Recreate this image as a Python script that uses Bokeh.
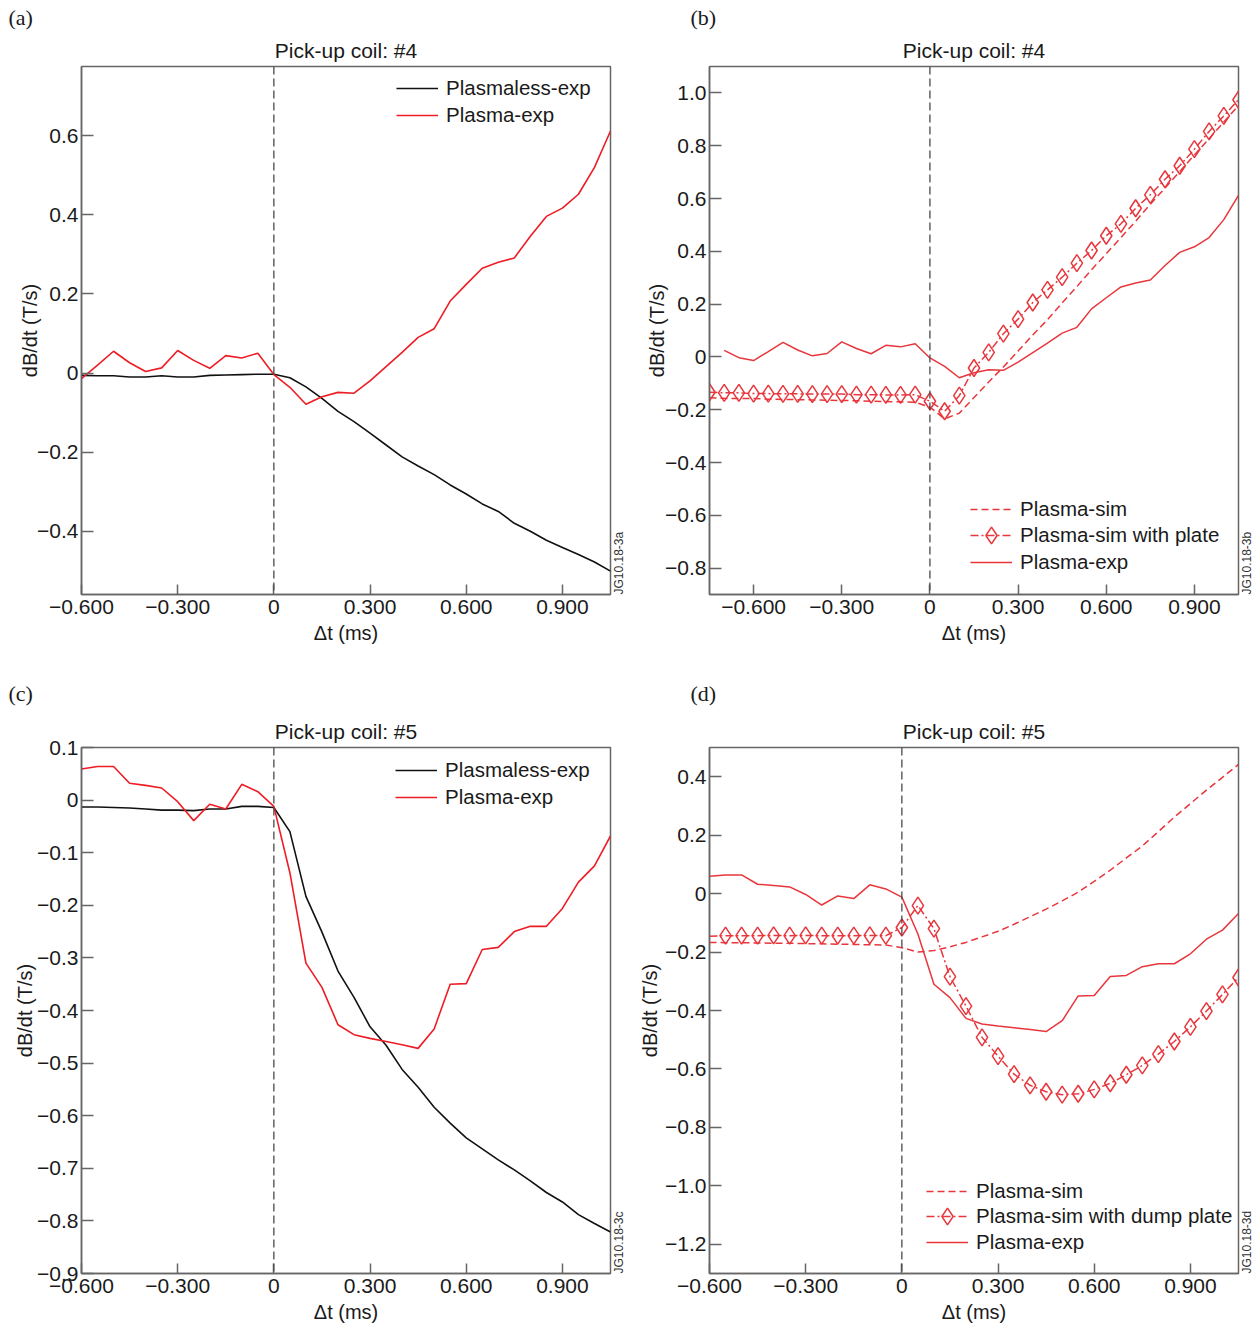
import math
from bokeh.plotting import figure
from bokeh.models import Span, Label, Legend, LegendItem, FixedTicker, Range1d, Title
from bokeh.layouts import column, row
from bokeh.embed import file_html
from bokeh.resources import INLINE

# ---------------- data ----------------
t_from_m075 = [-0.75, -0.70, -0.65, -0.60, -0.55, -0.50, -0.45, -0.40, -0.35, -0.30,
               -0.25, -0.20, -0.15, -0.10, -0.05, 0.00, 0.05, 0.10, 0.15, 0.20,
               0.25, 0.30, 0.35, 0.40, 0.45, 0.50, 0.55, 0.60, 0.65, 0.70,
               0.75, 0.80, 0.85, 0.90, 0.95, 1.00, 1.05]
t_from_m070 = [-0.70, -0.65, -0.60, -0.55, -0.50, -0.45, -0.40, -0.35, -0.30,
               -0.25, -0.20, -0.15, -0.10, -0.05, 0.00, 0.05, 0.10, 0.15, 0.20,
               0.25, 0.30, 0.35, 0.40, 0.45, 0.50, 0.55, 0.60, 0.65, 0.70,
               0.75, 0.80, 0.85, 0.90, 0.95, 1.00, 1.05]
t_from_m060 = [-0.60, -0.55, -0.50, -0.45, -0.40, -0.35, -0.30,
               -0.25, -0.20, -0.15, -0.10, -0.05, 0.00, 0.05, 0.10, 0.15, 0.20,
               0.25, 0.30, 0.35, 0.40, 0.45, 0.50, 0.55, 0.60, 0.65, 0.70,
               0.75, 0.80, 0.85, 0.90, 0.95, 1.00, 1.05]

# Pick-up coil #4
coil4_plasmaless_exp = [-0.006, -0.007, -0.007, -0.010, -0.010, -0.007, -0.010, -0.010, -0.006,
                        -0.005, -0.004, -0.003, -0.003, -0.012, -0.035, -0.064, -0.097, -0.123,
                        -0.152, -0.182, -0.212, -0.235, -0.257, -0.283, -0.306, -0.331, -0.350,
                        -0.380, -0.400, -0.423, -0.441, -0.459, -0.478, -0.501]          # on t_from_m060
coil4_plasma_exp = [0.025, -0.003, -0.014, 0.020, 0.055, 0.026, 0.004, 0.013, 0.057, 0.032,
                    0.012, 0.044, 0.038, 0.050, -0.004, -0.036, -0.079, -0.060, -0.049, -0.051,
                    -0.020, 0.016, 0.052, 0.090, 0.112, 0.182, 0.224, 0.265, 0.280, 0.291,
                    0.346, 0.396, 0.417, 0.452, 0.520, 0.612]                          # on t_from_m070
coil4_plasma_sim = [-0.155, -0.157, -0.158, -0.158, -0.160, -0.161, -0.162, -0.163, -0.164,
                    -0.165, -0.166, -0.168, -0.169, -0.170, -0.172, -0.190, -0.235, -0.213,
                    -0.154, -0.095, -0.038, 0.022, 0.083, 0.141, 0.205, 0.266, 0.330, 0.391,
                    0.452, 0.514, 0.578, 0.640, 0.702, 0.765, 0.827, 0.890, 0.952]     # on t_from_m075
coil4_plasma_sim_plate = [-0.134, -0.136, -0.136, -0.139, -0.139, -0.140, -0.140, -0.141, -0.141,
                          -0.141, -0.143, -0.143, -0.144, -0.144, -0.143, -0.168, -0.206, -0.147,
                          -0.042, 0.017, 0.088, 0.143, 0.206, 0.254, 0.302, 0.355, 0.403, 0.459,
                          0.504, 0.563, 0.614, 0.673, 0.724, 0.787, 0.854, 0.913, 0.974]  # on t_from_m075

# Pick-up coil #5 (all on t_from_m060)
coil5_plasmaless_exp = [-0.013, -0.013, -0.014, -0.015, -0.017, -0.019, -0.019, -0.020, -0.017,
                        -0.017, -0.012, -0.012, -0.014, -0.060, -0.183, -0.251, -0.325, -0.375,
                        -0.431, -0.466, -0.512, -0.546, -0.584, -0.614, -0.642, -0.663, -0.684,
                        -0.703, -0.724, -0.746, -0.764, -0.788, -0.805, -0.821]
coil5_plasma_exp = [0.059, 0.064, 0.064, 0.032, 0.028, 0.023, -0.003, -0.039, -0.008, -0.017,
                    0.030, 0.016, -0.012, -0.138, -0.310, -0.356, -0.427, -0.446, -0.453, -0.459,
                    -0.465, -0.472, -0.435, -0.350, -0.349, -0.284, -0.280, -0.250, -0.240,
                    -0.240, -0.206, -0.156, -0.125, -0.068]
coil5_plasma_sim = [-0.167, -0.168, -0.168, -0.169, -0.170, -0.170, -0.171, -0.172, -0.173,
                    -0.174, -0.175, -0.176, -0.185, -0.200, -0.195, -0.182, -0.167, -0.148,
                    -0.129, -0.105, -0.079, -0.053, -0.025, 0.005, 0.042, 0.080, 0.122, 0.163,
                    0.212, 0.262, 0.308, 0.354, 0.398, 0.442]
coil5_plasma_sim_dump_plate = [-0.146, -0.144, -0.144, -0.144, -0.143, -0.144, -0.143, -0.144,
                               -0.144, -0.144, -0.143, -0.144, -0.116, -0.041, -0.120, -0.284,
                               -0.385, -0.492, -0.556, -0.618, -0.656, -0.678, -0.688, -0.685,
                               -0.670, -0.649, -0.620, -0.588, -0.549, -0.506, -0.456, -0.402,
                               -0.345, -0.287]

# ticks
x_ticks = [-0.6, -0.3, 0.0, 0.3, 0.6, 0.9]
x_tick_labels = ["\u22120.600", "\u22120.300", "0", "0.300", "0.600", "0.900"]
ya_ticks = [-0.4, -0.2, 0.0, 0.2, 0.4, 0.6]
ya_tick_labels = ["\u22120.4", "\u22120.2", "0", "0.2", "0.4", "0.6"]
yb_ticks = [-0.8, -0.6, -0.4, -0.2, 0.0, 0.2, 0.4, 0.6, 0.8, 1.0]
yb_tick_labels = ["\u22120.8", "\u22120.6", "\u22120.4", "\u22120.2", "0", "0.2", "0.4", "0.6", "0.8", "1.0"]
yc_ticks = [-0.9, -0.8, -0.7, -0.6, -0.5, -0.4, -0.3, -0.2, -0.1, 0.0, 0.1]
yc_tick_labels = ["\u22120.9", "\u22120.8", "\u22120.7", "\u22120.6", "\u22120.5", "\u22120.4",
                  "\u22120.3", "\u22120.2", "\u22120.1", "0", "0.1"]
yd_ticks = [-1.2, -1.0, -0.8, -0.6, -0.4, -0.2, 0.0, 0.2, 0.4]
yd_tick_labels = ["\u22121.2", "\u22121.0", "\u22120.8", "\u22120.6", "\u22120.4", "\u22120.2", "0", "0.2", "0.4"]

# ---------------- styling ----------------
FONT = "Liberation Sans"
SERIF = "Liberation Serif"
TXT = "#1a1a1a"
FRAME = "#666666"
RED_A = "#ee1c25"
RED_B = "#e8363c"
BLACK = "#111111"


def make_fig(w, h, xr, yr, left, right, top, bottom, title, yt, ytl,
             panel, panel_offset, panel_standoff, ylab_standoff):
    p = figure(width=w, height=h, x_range=Range1d(*xr), y_range=Range1d(*yr),
               output_backend="svg", toolbar_location=None, title=None,
               min_border_left=left, min_border_right=right,
               min_border_top=top, min_border_bottom=bottom)
    p.add_layout(Title(text=title, align="center", text_font=FONT, text_font_size="21px",
                       text_font_style="normal", text_color=TXT, standoff=10), "above")
    p.add_layout(Title(text=panel, align="left", offset=panel_offset, text_font=SERIF,
                       text_font_size="22px", text_font_style="normal", text_color=TXT,
                       standoff=panel_standoff), "above")
    p.xgrid.visible = False
    p.ygrid.visible = False
    p.outline_line_color = FRAME
    p.outline_line_width = 1.5
    p.outline_line_alpha = 1.0
    p.xaxis.ticker = FixedTicker(ticks=x_ticks)
    p.xaxis.major_label_overrides = dict(zip(x_ticks, x_tick_labels))
    p.yaxis.ticker = FixedTicker(ticks=yt)
    p.yaxis.major_label_overrides = dict(zip(yt, ytl))
    p.xaxis.axis_label = "\u0394t (ms)"
    p.yaxis.axis_label = "dB/dt (T/s)"
    for ax in (p.xaxis[0], p.yaxis[0]):
        ax.major_tick_out = 0
        ax.minor_tick_line_color = None
        ax.axis_line_color = FRAME
        ax.axis_line_width = 1.5
        ax.major_tick_line_color = FRAME
        ax.major_tick_line_width = 1.5
        ax.major_label_text_font = FONT
        ax.major_label_text_font_size = "21px"
        ax.major_label_text_color = TXT
        ax.axis_label_text_font = FONT
        ax.axis_label_text_font_size = "20px"
        ax.axis_label_text_font_style = "normal"
        ax.axis_label_text_color = TXT
    p.xaxis.major_tick_in = 10
    p.yaxis.major_tick_in = 12
    p.xaxis.major_label_standoff = 5
    p.yaxis.major_label_standoff = 3
    p.xaxis.axis_label_standoff = 5
    p.yaxis.axis_label_standoff = ylab_standoff
    p.add_layout(Span(location=0, dimension="height", line_color="#4a4a4a",
                      line_dash="8 4", line_width=1.3))
    return p


def make_legend(items, location, glyph_h=20, spacing=3):
    lg = Legend(items=items, location=location)
    lg.padding = 0
    lg.margin = 0
    lg.spacing = spacing
    lg.glyph_width = 42
    lg.glyph_height = glyph_h
    lg.label_height = 20
    lg.label_standoff = 8
    lg.border_line_color = None
    lg.background_fill_alpha = 0
    lg.label_text_font = FONT
    lg.label_text_font_size = "20.5px"
    lg.label_text_color = TXT
    return lg


def add_code(p, jg):
    p.add_layout(Label(x=8, y=0, x_units="screen", y_units="screen", text=jg,
                       angle=math.pi / 2, text_font=FONT, text_font_size="12px",
                       text_color="#333333", text_baseline="middle", text_align="left"), "right")


# ---------------- (a) ----------------
pa = make_fig(630, 665, (-0.6, 1.05), (-0.56, 0.775), 81, 20, 66, 71,
              "Pick-up coil: #4", ya_ticks, ya_tick_labels, "(a)", -73, 4, -7)
ra1 = pa.line(t_from_m060, coil4_plasmaless_exp, line_color=BLACK, line_width=1.6)
ra2 = pa.line(t_from_m070, coil4_plasma_exp, line_color=RED_A, line_width=1.6)
pa.add_layout(make_legend([LegendItem(label="Plasmaless-exp", renderers=[ra1]),
                           LegendItem(label="Plasma-exp", renderers=[ra2])], (315, 467)))
add_code(pa, "JG10.18-3a")

# ---------------- (b) ----------------
pb = make_fig(629, 665, (-0.75, 1.05), (-0.9, 1.1), 79, 21, 66, 71,
              "Pick-up coil: #4", yb_ticks, yb_tick_labels, "(b)", -19, 4, -6)
rb1 = pb.line(t_from_m075, coil4_plasma_sim, line_color=RED_B, line_width=1.5, line_dash="7 4")
rb2 = pb.line(t_from_m075, coil4_plasma_sim_plate, line_color=RED_B, line_width=1.5, line_dash="8 3 2 3")
rb2m = pb.scatter(t_from_m075, coil4_plasma_sim_plate, marker="diamond", size=17,
                  line_color=RED_B, fill_color=None, line_width=1.5)
rb3 = pb.line(t_from_m070, coil4_plasma_exp, line_color=RED_B, line_width=1.5)
pb.add_layout(make_legend([LegendItem(label="Plasma-sim", renderers=[rb1])], (261, 63), glyph_h=44))
pb.add_layout(make_legend([LegendItem(label="Plasma-sim with plate", renderers=[rb2, rb2m])],
                          (261, 37), glyph_h=44))
pb.add_layout(make_legend([LegendItem(label="Plasma-exp", renderers=[rb3])], (261, 10), glyph_h=44))
add_code(pb, "JG10.18-3b")

# ---------------- (c) ----------------
pc = make_fig(630, 666, (-0.6, 1.05), (-0.9, 0.1), 81, 20, 82, 58,
              "Pick-up coil: #5", yc_ticks, yc_tick_labels, "(c)", -73, 14, -2)
rc1 = pc.line(t_from_m060, coil5_plasmaless_exp, line_color=BLACK, line_width=1.6)
rc2 = pc.line(t_from_m060, coil5_plasma_exp, line_color=RED_A, line_width=1.6)
pc.add_layout(make_legend([LegendItem(label="Plasmaless-exp", renderers=[rc1]),
                           LegendItem(label="Plasma-exp", renderers=[rc2])], (314, 464)))
add_code(pc, "JG10.18-3c")

# ---------------- (d) ----------------
pd_ = make_fig(629, 666, (-0.6, 1.05), (-1.3, 0.5), 79, 21, 82, 58,
               "Pick-up coil: #5", yd_ticks, yd_tick_labels, "(d)", -19, 14, 1)
rd1 = pd_.line(t_from_m060, coil5_plasma_sim, line_color=RED_B, line_width=1.5, line_dash="7 4")
rd2 = pd_.line(t_from_m060, coil5_plasma_sim_dump_plate, line_color=RED_B, line_width=1.5,
               line_dash="8 3 2 3")
rd2m = pd_.scatter(t_from_m060[1:], coil5_plasma_sim_dump_plate[1:], marker="diamond", size=17,
                   line_color=RED_B, fill_color=None, line_width=1.5)
rd3 = pd_.line(t_from_m060, coil5_plasma_exp, line_color=RED_B, line_width=1.5)
pd_.add_layout(make_legend([LegendItem(label="Plasma-sim", renderers=[rd1])], (217, 60), glyph_h=44))
pd_.add_layout(make_legend([LegendItem(label="Plasma-sim with dump plate", renderers=[rd2, rd2m])],
                           (217, 35), glyph_h=44))
pd_.add_layout(make_legend([LegendItem(label="Plasma-exp", renderers=[rd3])], (217, 9), glyph_h=44))
add_code(pd_, "JG10.18-3d")

layout = column(row(pa, pb, spacing=0), row(pc, pd_, spacing=0), spacing=0)
open("out.html", "w").write(file_html(layout, INLINE))
